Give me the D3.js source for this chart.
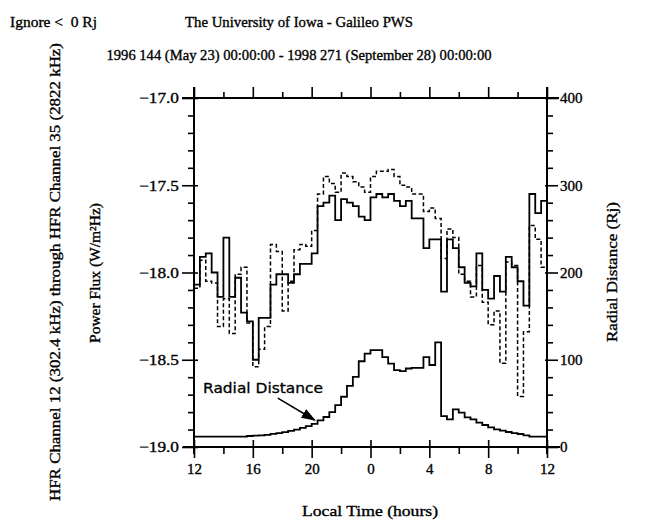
<!DOCTYPE html>
<html lang="en">
<head>
<meta charset="UTF-8">
<script src="https://d3js.org/d3.v7.min.js"></script>
<style>
    body { margin: 0; background: #fff; }
    svg { display: block; }
    .mono { font-family: "Liberation Serif", "DejaVu Serif", serif; fill: #000; stroke: #000; stroke-width: 0.35px; white-space: pre; }
</style>
</head>
<body>
<svg width="645" height="521"></svg>
<script>
// hours after 12 LT, 0.4 h bins (60 of them)
var binHours = 0.4;
var binStart = d3.range(60).map(function(i) { return i * binHours; });

// log10 power flux, two channels
var fluxSolid = [-18.07,-17.91,-17.89,-18.00,-18.14,-17.80,-18.14,-18.03,-18.23,-18.28,
                 -18.50,-18.26,-18.26,-18.07,-18.01,-18.01,-18.06,-18.01,-17.95,-17.95,
                 -17.89,-17.62,-17.60,-17.56,-17.70,-17.58,-17.60,-17.62,-17.68,-17.70,
                 -17.57,-17.55,-17.57,-17.55,-17.59,-17.62,-17.59,-17.69,-17.69,-17.86,
                 -17.81,-17.81,-18.11,-17.81,-17.86,-17.97,-18.06,-18.08,-17.89,-18.10,
                 -18.15,-18.02,-18.11,-17.91,-17.97,-18.05,-18.19,-17.55,-17.66,-17.59];
var fluxDashed = [-18.09,-17.93,-18.05,-18.06,-18.31,-18.15,-18.35,-18.01,-17.97,-18.29,
                  -18.54,-18.44,-18.31,-17.84,-17.88,-18.22,-18.05,-17.87,-17.84,-17.85,
                  -17.76,-17.55,-17.45,-17.49,-17.54,-17.43,-17.45,-17.48,-17.51,-17.54,
                  -17.45,-17.42,-17.42,-17.41,-17.45,-17.50,-17.51,-17.55,-17.55,-17.65,
                  -17.63,-17.69,-17.92,-17.75,-17.80,-18.01,-18.05,-18.14,-17.96,-18.17,
                  -18.30,-18.22,-18.52,-17.94,-17.96,-18.71,-18.34,-17.73,-17.81,-17.97];
// radial distance (Rj)
var radial = [12,12,12,12,12,12,12,12,12,12.6,
              13,13.4,14,15,16,17,18.5,20,22,24,
              26.5,30.5,34.4,40,48,57.6,70,80.3,98.3,107,
              111,111,103,95.5,88,87,90,90.7,90.7,103,
              94,120,35.5,31.7,43.2,39.3,34,31.7,27.9,25.2,
              22.5,20.2,18.7,17.2,16,14.9,13.4,12,12,12];

var xMajor = [0, 4, 8, 12, 16, 20, 24];
var xMinor = [2, 6, 10, 14, 18, 22];
var xTickLabels = ["12", "16", "20", "0", "4", "8", "12"];
var yMajor = [-17.0, -17.5, -18.0, -18.5, -19.0];
var yMinor = [-17.1,-17.2,-17.3,-17.4,-17.6,-17.7,-17.8,-17.9,-18.1,-18.2,-18.3,-18.4,-18.6,-18.7,-18.8,-18.9];
var rMajor = [0, 100, 200, 300, 400];
var rMinor = [20,40,60,80,120,140,160,180,220,240,260,280,320,340,360,380];

var svg = d3.select("svg");
var pl = 194, pr = 547, pt = 98, pb = 447;

var x = d3.scaleLinear().domain([0, 24]).range([pl, pr]);
var y = d3.scaleLinear().domain([-19, -17]).range([pb, pt]);
var yR = d3.scaleLinear().domain([0, 400]).range([pb, pt]);

function txt(px, py, s, len, size, anchor, rot) {
    var t = svg.append("text")
        .attr("class", "mono")
        .attr("font-size", size)
        .attr("text-anchor", anchor || "middle")
        .attr("textLength", len)
        .attr("lengthAdjust", "spacingAndGlyphs")
        .text(s);
    if (rot) t.attr("transform", "translate(" + px + "," + py + ") rotate(-90)");
    else t.attr("x", px).attr("y", py);
    return t;
}

// titles
txt(10, 27, "Ignore <  0 Rj", 87, 15, "start");
txt(299, 27, "The University of Iowa - Galileo PWS", 228, 15);
txt(299, 60, "1996 144 (May 23) 00:00:00 - 1998 271 (September 28) 00:00:00", 385, 15);
txt(60, 272, "HFR Channel 12 (302.4 kHz) through HFR Channel 35 (2822 kHz)", 458, 15, "middle", true);
txt(100, 273, "Power Flux (W/m\u00B2Hz)", 140, 15, "middle", true);
txt(617, 272, "Radial Distance (Rj)", 140, 15, "middle", true);
txt(370, 516, "Local Time (hours)", 136, 15);

// frame
var frame = svg.append("g").attr("stroke", "#000").attr("stroke-width", 2);
frame.append("line").attr("x1", pl - 12).attr("x2", pr + 12).attr("y1", pt).attr("y2", pt);
frame.append("line").attr("x1", pl - 11).attr("x2", pr + 13).attr("y1", pb).attr("y2", pb);
frame.append("line").attr("x1", pl).attr("x2", pl).attr("y1", pt - 11).attr("y2", pb + 7);
frame.append("line").attr("x1", pr).attr("x2", pr).attr("y1", pt - 11).attr("y2", pb + 7);

function styleAxis(g) {
    g.select(".domain").remove();
    g.selectAll("line").attr("stroke", "#000").attr("stroke-width", 1.6);
    g.selectAll("text").attr("class", "mono").attr("font-size", 15).attr("fill", "#000");
}

// left axis
svg.append("g").attr("transform", "translate(" + pl + ",0)")
    .call(d3.axisLeft(y).tickValues(yMinor).tickSize(6).tickFormat(""))
    .call(styleAxis);
svg.append("g").attr("transform", "translate(" + (pl + 4) + ",0)")
    .call(d3.axisLeft(y).tickValues(yMajor).tickSize(16).tickPadding(3).tickFormat(d3.format(".1f")))
    .call(styleAxis)
    .selectAll("text").attr("textLength", 40).attr("lengthAdjust", "spacingAndGlyphs");

// right axis
svg.append("g").attr("transform", "translate(" + pr + ",0)")
    .call(d3.axisRight(yR).tickValues(rMinor).tickSize(6).tickFormat(""))
    .call(styleAxis);
svg.append("g").attr("transform", "translate(" + (pr - 2) + ",0)")
    .call(d3.axisRight(yR).tickValues(rMajor).tickSize(13).tickPadding(2))
    .call(styleAxis);

// top axis
svg.append("g").attr("transform", "translate(0," + pt + ")")
    .call(d3.axisTop(x).tickValues(xMinor).tickSize(6).tickFormat(""))
    .call(styleAxis);
svg.append("g").attr("transform", "translate(0," + pt + ")")
    .call(d3.axisTop(x).tickValues(xMajor).tickSize(11).tickFormat(""))
    .call(styleAxis);

// bottom axis
svg.append("g").attr("transform", "translate(0," + pb + ")")
    .call(d3.axisBottom(x).tickValues(xMinor).tickSize(7).tickFormat(""))
    .call(styleAxis);
svg.append("g").attr("transform", "translate(0," + (pb - 7) + ")")
    .call(d3.axisBottom(x).tickValues(xMajor).tickSize(18).tickPadding(5)
        .tickFormat(function(d, i) { return xTickLabels[i]; }))
    .call(styleAxis);

// step traces
function stepPts(vals) {
    var pts = vals.map(function(v, i) { return [binStart[i], v]; });
    pts.push([24, vals[vals.length - 1]]);
    return pts;
}
var fluxLine = d3.line().curve(d3.curveStepAfter)
    .x(function(d) { return x(d[0]); }).y(function(d) { return y(d[1]); });
var radLine = d3.line().curve(d3.curveStepAfter)
    .x(function(d) { return x(d[0]); }).y(function(d) { return yR(d[1]); });

svg.append("path").attr("d", fluxLine(stepPts(fluxDashed)))
    .attr("fill", "none").attr("stroke", "#000").attr("stroke-width", 1.5)
    .attr("stroke-dasharray", "4,2.5");
svg.append("path").attr("d", fluxLine(stepPts(fluxSolid)))
    .attr("fill", "none").attr("stroke", "#000").attr("stroke-width", 1.8);
svg.append("path").attr("d", radLine(stepPts(radial)))
    .attr("fill", "none").attr("stroke", "#000").attr("stroke-width", 1.8);

// annotation
svg.append("defs").append("marker")
    .attr("id", "head").attr("viewBox", "0 0 10 10").attr("refX", 9).attr("refY", 5)
    .attr("markerWidth", 9).attr("markerHeight", 9).attr("orient", "auto")
    .append("path").attr("d", "M0,1.5 L10,5 L0,8.5 Z").attr("fill", "#000");
svg.append("text")
    .attr("x", 203).attr("y", 393)
    .attr("font-family", "'DejaVu Sans', sans-serif").attr("font-size", 14)
    .attr("stroke", "#000").attr("stroke-width", 0.3)
    .attr("textLength", 120).attr("lengthAdjust", "spacingAndGlyphs")
    .text("Radial Distance");
svg.append("line")
    .attr("x1", x(5.7)).attr("y1", yR(56)).attr("x2", x(8.2)).attr("y2", yR(31))
    .attr("stroke", "#000").attr("stroke-width", 1.6).attr("marker-end", "url(#head)");
</script>
</body>
</html>
